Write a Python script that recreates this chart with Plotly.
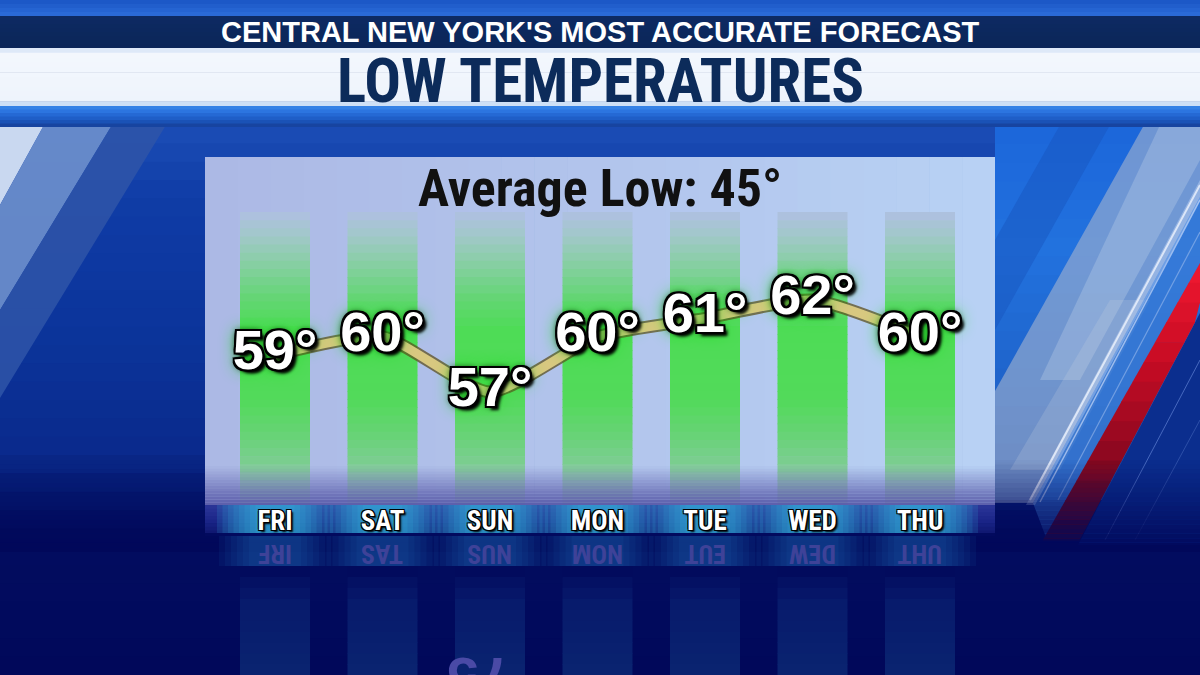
import plotly.graph_objects as go

# ---------------- data ----------------
days = ["FRI", "SAT", "SUN", "MON", "TUE", "WED", "THU"]
lows = [59, 60, 57, 60, 61, 62, 60]
title = "LOW TEMPERATURES"
subtitle = "CENTRAL NEW YORK'S MOST ACCURATE FORECAST"
avg_label = "Average Low: 45°"

# ---------------- geometry helpers ----------------
W, H = 1200, 675
X0PX, DXPX = 275.0, 107.5          # pixel of first day column centre, spacing
x_range = [(0 - X0PX) / DXPX, (W - X0PX) / DXPX]
Y_REF_V, Y_REF_PX, PX_PER_DEG = 62, 300.0, 18.4
y_range = [Y_REF_V - (H - Y_REF_PX) / PX_PER_DEG, Y_REF_V + Y_REF_PX / PX_PER_DEG]

NARROW = "Liberation Sans Narrow, Roboto Condensed, DejaVu Sans Condensed, Liberation Sans, Arial"
SANS = "Liberation Sans, Arial, Helvetica, sans-serif"


def px(x):
    return x / W


def py(y):
    return 1 - y / H


def hex2rgb(h):
    h = h.lstrip('#')
    return tuple(int(h[i:i + 2], 16) for i in (0, 2, 4))


def mix(c0, c1, t):
    a, b = hex2rgb(c0), hex2rgb(c1)
    return 'rgb(%d,%d,%d)' % tuple(round(a[i] + (b[i] - a[i]) * t) for i in range(3))


def color_at(stops, y):
    for (y0, c0), (y1, c1) in zip(stops, stops[1:]):
        if y <= y1:
            t = (y - y0) / (y1 - y0) if y1 > y0 else 0
            return mix(c0, c1, max(0.0, min(1.0, t)))
    return mix(stops[-1][1], stops[-1][1], 0)


shapes = []


def rect(x0, x1, y0, y1, color, xref='paper', opacity=1.0):
    if xref == 'paper':
        X0, X1 = px(x0), px(x1)
    else:
        X0, X1 = x0, x1
    shapes.append(dict(type='rect', xref=xref, yref='paper', x0=X0, x1=X1,
                       y0=py(y1), y1=py(y0), fillcolor=color,
                       line=dict(width=0), layer='below', opacity=opacity))


def vgrad(x0, x1, stops, n, xref='paper'):
    y0, y1 = stops[0][0], stops[-1][0]
    h = (y1 - y0) / n
    for i in range(n):
        a = y0 + i * h
        b = a + h
        rect(x0, x1, a, b + (0.7 if i < n - 1 else 0), color_at(stops, (a + b) / 2), xref)


def hgrad(x0, x1, y0, y1, stops, n):
    w = (x1 - x0) / n
    for i in range(n):
        a = x0 + i * w
        b = a + w
        rect(a, b + (0.7 if i < n - 1 else 0), y0, y1, color_at(stops, (a + b) / 2))


def alpha_fade(x0, x1, y0, y1, color, n, a0, a1, xref='paper'):
    h = (y1 - y0) / n
    for i in range(n):
        a = y0 + i * h
        t = (i + 0.5) / n
        rect(x0, x1, a, a + h, color, xref, opacity=a0 + (a1 - a0) * t)


def poly(points, color, opacity=1.0):
    path = 'M ' + ' L '.join(f'{px(x):.5f},{py(y):.5f}' for x, y in points) + ' Z'
    shapes.append(dict(type='path', xref='paper', yref='paper', path=path,
                       fillcolor=color, line=dict(width=0), layer='below', opacity=opacity))


def seg(points, color, width, opacity=1.0):
    (xa, ya), (xb, yb) = points
    shapes.append(dict(type='line', xref='paper', yref='paper', x0=px(xa), y0=py(ya),
                       x1=px(xb), y1=py(yb), line=dict(color=color, width=width),
                       layer='below', opacity=opacity))


# ---------------- background ----------------
vgrad(0, W, [(125, '#1C4DB6'), (200, '#0F3CA6'), (350, '#0B3399'), (450, '#0A2A8C'),
             (500, '#061C74'), (540, '#020D60'), (675, '#01085A')], 30)

# left diagonal streaks
poly([(0, 125), (44, 125), (0, 205)], '#C9D8F0')
poly([(44, 125), (112, 125), (0, 310), (0, 205)], '#6E90CC', 0.9)
poly([(112, 125), (166, 125), (0, 398), (0, 310)], '#2F55A8', 0.85)

# right sky
vgrad(995, W, [(125, '#1C66DA'), (250, '#2272DE'), (400, '#1E62C8'), (500, '#1848A8')], 20)
poly([(1060, 125), (1110, 125), (995, 330), (995, 240)], '#1756C0', 0.5)
# cloud band
poly([(1144, 125), (1200, 125), (1200, 197), (1033, 503), (995, 503), (995, 391)], '#A2B2CE', 0.62)
poly([(1160, 125), (1200, 125), (1200, 160), (1080, 380), (1040, 380)], '#D8E2F0', 0.25)
poly([(1110, 300), (1150, 300), (1060, 470), (1010, 470)], '#C8D0E0', 0.22)
# sky strip between streaks and red stripe
poly([(1200, 197), (1200, 263), (1047, 540), (1033, 503)], '#3D7ED6', 0.7)
# light streaks
poly([(1200, 180), (1200, 200), (1035, 505), (1026, 505)], '#D8E6FF', 0.35)
seg([(1200, 185), (1030, 500)], '#F4F8FF', 2, 0.75)
seg([(1200, 200), (1040, 502)], '#DDE8FF', 1.5, 0.6)
seg([(1200, 232), (1058, 500)], '#AFC8F2', 1.2, 0.5)
# dark region right of red stripe
poly([(1200, 313), (1200, 545), (1078, 545)], '#0B2E8E')
seg([(1200, 360), (1105, 540)], '#6F90E0', 1, 0.6)
seg([(1200, 420), (1135, 540)], '#5F80D0', 1, 0.4)
# red stripe (segmented gradient)
RED_N = 14


def xl(y):
    return 1200 - 0.567 * (y - 263)


def xr(y):
    return min(1200.0, 1200 - 0.530 * (y - 313))


for i in range(RED_N):
    ya = 263 + (540 - 263) * i / RED_N
    yb = 263 + (540 - 263) * (i + 1) / RED_N + 0.6
    c = color_at([(263, '#F01830'), (360, '#C80C24'), (450, '#900820'), (540, '#5A0618')], (ya + yb) / 2)
    poly([(xl(ya), ya), (xr(ya), ya), (xr(yb), yb), (xl(yb), yb)], c)

# fade side regions into navy
alpha_fade(0, W, 460, 552, '#01085A', 20, 0.0, 1.0)

# ---------------- header ----------------
vgrad(0, W, [(0, '#1A55C4'), (16, '#2C6DDA')], 4)
vgrad(0, W, [(16, '#3A78D8'), (18, '#0D2A62'), (46, '#0B2658'), (48, '#27508F')], 8)
vgrad(0, W, [(48, '#CADCF4'), (53, '#F3F7FD'), (100, '#EEF4FC'), (106, '#B8D2F2')], 12)
vgrad(0, W, [(106, '#3A88EA'), (112, '#2A72DE'), (120, '#1C58C0'), (127, '#153E96')], 6)

# ---------------- panel ----------------
PX_L, PX_R, PY_T, PY_B = 205, 995, 157, 505
hgrad(PX_L, PX_R, PY_T, PY_B, [(205, '#ACB9E5'), (600, '#B2C4EC'), (995, '#B8D2F4')], 24)

# green day columns, positioned on the x scale
half = 35.0 / DXPX
col_stops = [(212, '#AFBFE2'), (235, '#A2C8CA'), (265, '#86CFA2'), (300, '#62D672'),
             (330, '#4EDC56'), (400, '#52DA5A'), (430, '#64D472'), (460, '#7ACE8E'),
             (485, '#98C8B4'), (505, '#A8C4C8')]
for i in range(len(days)):
    vgrad(i - half, i + half, col_stops, 36, xref='x')

# bottom fade of the panel
alpha_fade(PX_L, PX_R, 466, 505, '#5A5CAA', 14, 0.0, 1.0)

# day label strip
vgrad(PX_L, PX_R, [(505, '#2C3698'), (520, '#1B2589'), (534, '#0E166F')], 8)
for i in range(len(days)):
    for k in range(8):
        hw = (58 - k * 5.5) / DXPX
        rect(i - hw, i + hw, 505, 533, '#35BDE6', xref='x', opacity=0.15)
    for k in range(6):
        hw = (56 - k * 6) / DXPX
        rect(i - hw, i + hw, 536, 566, '#2A90D0', xref='x', opacity=0.07)
    # reflected columns
    vgrad(i - half, i + half, [(566, '#01085A'), (600, '#071A6C'), (675, '#0A2470')], 10, xref='x')
rect(PX_L, PX_R, 533, 536, '#020A5E')

# ---------------- traces ----------------
OUTLINE = ('-2px -2px 0 #000, 2px -2px 0 #000, -2px 2px 0 #000, 2px 2px 0 #000, '
           '0 -2px 0 #000, 0 2px 0 #000, -2px 0 0 #000, 2px 0 0 #000, '
           '4px 4px 3px #000, 0 0 6px #000, 0 0 16px #10E010')
fig = go.Figure()
fig.add_trace(go.Scatter(x=list(range(len(days))), y=lows, mode='lines', opacity=0.75,
                         line=dict(color='#5E5020', width=13, shape='spline', smoothing=0.6),
                         hoverinfo='skip'))
fig.add_trace(go.Scatter(x=list(range(len(days))), y=lows, mode='lines',
                         line=dict(color='#D8C880', width=9, shape='spline', smoothing=0.6),
                         hoverinfo='skip'))
fig.add_trace(go.Scatter(
    x=list(range(len(days))), y=lows, mode='text',
    text=[f"{v}°" for v in lows], textposition='middle center',
    textfont=dict(family=SANS, size=56, color='white', weight='bold', shadow=OUTLINE),
    hoverinfo='skip'))

annotations = [
    dict(x=px(600), y=py(32), xref='paper', yref='paper', text=subtitle, showarrow=False,
         font=dict(family=SANS, size=29, color='white', weight='bold'),
         xanchor='center', yanchor='middle'),
    dict(x=px(600), y=py(81), xref='paper', yref='paper', text=title, showarrow=False,
         font=dict(family=NARROW, size=61, color='#0C2B5A', weight='bold'),
         xanchor='center', yanchor='middle'),
    dict(x=px(600), y=py(188), xref='paper', yref='paper', text=avg_label, showarrow=False,
         font=dict(family=NARROW, size=52, color='#111111', weight='bold'),
         xanchor='center', yanchor='middle'),
]
# mirrored day labels (reflection)
for i, d in enumerate(days):
    annotations.append(dict(x=i, y=py(554), xref='x', yref='paper', text=d[::-1], showarrow=False,
                            textangle=180, font=dict(family=NARROW, size=26, color='#3E4298', weight='bold'),
                            xanchor='center', yanchor='middle'))
# faint reflection of the lowest value at the bottom
lo_i = lows.index(min(lows))
annotations.append(dict(x=lo_i, y=py(678), xref='x', yref='paper', text=f"°{str(lows[lo_i])[::-1]}",
                        showarrow=False, textangle=180,
                        font=dict(family=SANS, size=56, color='#4A4AA6', weight='bold'),
                        xanchor='center', yanchor='middle'))

fig.update_layout(
    width=W, height=H, margin=dict(l=0, r=0, t=0, b=0),
    paper_bgcolor='#01085A', plot_bgcolor='rgba(0,0,0,0)',
    showlegend=False, shapes=shapes, annotations=annotations,
    xaxis=dict(range=x_range, domain=[0, 1], anchor='free', position=py(502),
               tickmode='array', tickvals=list(range(len(days))), ticktext=days,
               ticks='', showgrid=False, zeroline=False, showline=False, fixedrange=True,
               tickfont=dict(family=NARROW, size=27, color='white', weight='bold',
                             shadow='-1px -1px 0 #000, 1px -1px 0 #000, -1px 1px 0 #000, '
                                    '1px 1px 0 #000, 2px 2px 2px #000')),
    yaxis=dict(range=y_range, domain=[0, 1], visible=False, fixedrange=True),
)

fig.write_html("out.html", config={'displayModeBar': False})
